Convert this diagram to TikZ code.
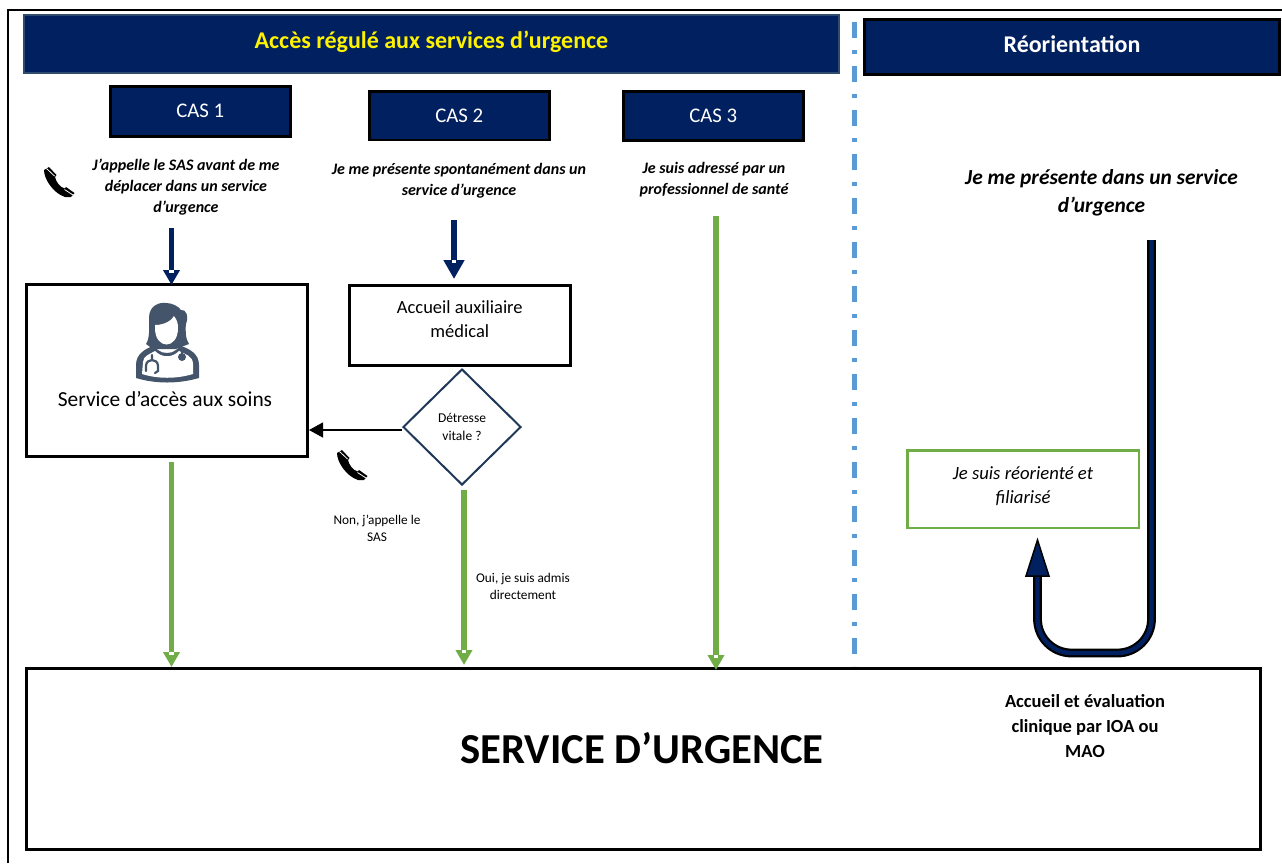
\documentclass[tikz,border=0pt]{standalone}
\usepackage{fontspec}
\setmainfont{Carlito}
\definecolor{sasnavy}{RGB}{0,32,96}
\definecolor{sasedge}{RGB}{47,75,110}
\definecolor{sasgreen}{RGB}{112,173,71}
\definecolor{sasblue}{RGB}{91,155,213}
\definecolor{sasslate}{RGB}{31,56,90}
\definecolor{sasicon}{RGB}{68,84,106}
\usetikzlibrary{arrows.meta,shapes.geometric,decorations.markings,positioning}
\newcommand{\liftup}[1]{\rule[-#1]{0pt}{#1}}
\tikzset{
  navybox/.style={fill=sasnavy,draw=black,line width=2.5pt,text=white,minimum width=180pt,font=\fontsize{20.8}{24}\selectfont,anchor=north west},
  plainbox/.style={draw=black,line width=2.6pt,anchor=north west,align=center},
  slitarrow/.style 2 args={line width=5.5pt,-{Triangle[length=#2,width=#1]},
    postaction={decorate,decoration={markings,mark=at position 1 with {\fill[white] (-#2,-2.2pt) rectangle ++(3pt,4.4pt);}}}},
  caption/.style={align=center,font=\fontsize{16}{21}\selectfont\bfseries\itshape},
  smalltext/.style={align=center,font=\fontsize{13.3}{17}\selectfont},
  handset/.pic={
    \fill[black] (-15,-12) .. controls (-15,-3) and (-6,11) .. (6,15) -- (12,15) -- (15.5,11) -- (7,5) -- (5.5,6.5)
      .. controls (1,5) and (-3,0) .. (-4,-5) -- (-2.5,-7) -- (-10,-15) -- cycle;
    \draw[white,line width=.8pt] (-12.5,-13.5) -- (-4.5,-6) (5.5,7.5) -- (14,13);
  }
}
\begin{document}
\begin{tikzpicture}[x=1pt,y=-1pt]
  \useasboundingbox (0,0) rectangle (1282,863);
  % cadre
  \coordinate (frameTL) at (8,10);
  \draw[black,line width=2pt] (8,863) -- (frameTL) -- (1282,10);

  % bandeaux
  \node[fill=sasnavy,draw=sasedge,line width=2pt,minimum width=815pt,minimum height=57.5pt,anchor=north west,text=yellow,font=\fontsize{24}{28}\selectfont\bfseries] (regule) at (23,14) {Accès régulé aux services d’urgence\liftup{7pt}};
  \node[fill=sasnavy,draw=black,line width=3pt,minimum width=415pt,minimum height=55pt,anchor=north west,text=white,font=\fontsize{24}{28}\selectfont\bfseries] (reorient) at (863,18) {Réorientation\liftup{6pt}};

  \node[navybox,minimum height=50pt] (cas1) at (109,85) {CAS 1};
  \node[navybox,minimum height=48.5pt] (cas2) at (368,90) {CAS 2};
  \node[navybox,minimum height=49pt] (cas3) at (622,90) {CAS 3};

  % textes d'entree
  \node[caption] (txt1) at (186,187) {J’appelle le SAS avant de me\\déplacer dans un service\\d’urgence};
  \node[caption] (txt2) at (459,181) {Je me présente spontanément dans un\\service d’urgence};
  \node[caption] (txt3) at (714,180) {Je suis adressé par un\\professionnel de santé};
  \node[align=center,font=\fontsize{21.4}{28}\selectfont\bfseries\itshape] (txt4) at (1101.5,193) {Je me présente dans un service\\d’urgence};
  \pic at (59,182) {handset};
  \pic at (352,465) {handset};

  % boites
  \node[plainbox,minimum width=281.4pt,minimum height=172.4pt] (sas) at (25,283) {};
  \node[font=\fontsize{21.4}{25}\selectfont] (sastxt) at (165,399) {Service d’accès aux soins};
  \node[plainbox,minimum width=221pt,minimum height=80.4pt,font=\fontsize{18.5}{24}\selectfont] (aux) at (348,284) {Accueil auxiliaire\\médical\liftup{12pt}};
  \node[draw=sasslate,line width=2pt,shape=diamond,aspect=1,minimum width=118pt,minimum height=116pt,inner sep=0pt,align=center,font=\fontsize{13.5}{18.5}\selectfont] (detresse) at (462,427) {Détresse\\vitale ?};
  \node[draw=sasgreen,line width=2.5pt,minimum width=231.5pt,minimum height=77.5pt,anchor=north west,align=center,font=\fontsize{18.7}{24}\selectfont\itshape] (filiere) at (906,449) {Je suis réorienté et\\filiarisé\liftup{7pt}};
  \node[plainbox,minimum width=1234pt,minimum height=181.4pt] (urgence) at (25,667) {};
  \node[font=\fontsize{42.7}{48}\selectfont\bfseries] (urgtxt) at (642,748) {SERVICE D’URGENCE};
  \node[align=center,font=\fontsize{18.5}{25}\selectfont\bfseries] (ioa) at (1085,726) {Accueil et évaluation\\clinique par IOA ou\\MAO};

  % icone soignante
  \fill[sasicon] (149,318) .. controls (149,305) and (160,302) .. (166,303) .. controls (172,303) and (178,306) .. (181,310) .. controls (186,309) and (189,316) .. (186,324) .. controls (185,331) and (186,340) .. (189,344)
    -- (176,349) -- (153,349) -- (146,344) .. controls (150,338) and (149,328) .. (149,318) -- cycle;
  \fill[white] (155,325) .. controls (165,325) and (172,320) .. (174,316) .. controls (177,320) and (178,323) .. (178,328) .. controls (178,350) and (155,350) .. (155,328) -- cycle;
  \fill[sasicon] (153,346) -- (158,350) .. controls (162,354) and (172,354) .. (176,350) -- (181,346)
    .. controls (190,349) and (199,354) .. (199,365) -- (199,378) .. controls (178,384) and (156,384) .. (136,378) -- (136,365) .. controls (136,354) and (145,349) .. (153,346) -- cycle;
  \fill[white] (143,362) .. controls (143,356) and (150,354) .. (155,351) .. controls (162,358) and (172,358) .. (179,351) .. controls (185,354) and (193,356) .. (193,364) -- (193,374) .. controls (176,379) and (158,379) .. (142,374) -- cycle;
  \draw[sasicon,line width=2.2pt,line cap=round] (152,355) -- (152,360) (146,371) -- (146,366) .. controls (146,358) and (158,358) .. (158,366) -- (158,371) -- (155,373);
  \draw[sasicon,line width=2pt] (182,352) -- (182,360);
  \fill[sasicon] (182,357) circle (4pt);

  % connecteurs
  \coordinate (d1) at (171.5,228);
  \coordinate (d2) at (454,220);
  \coordinate (v1) at (171.5,462);
  \coordinate (v2) at (464,490);
  \coordinate (v3) at (716,216);
  \coordinate (r0) at (1151.5,240);
  \draw[sasnavy,slitarrow={16pt}{15pt}] (d1) -- ([yshift=-2pt]d1 |- sas.north);
  \draw[sasnavy,slitarrow={20pt}{19pt}] (d2) -- ([yshift=5pt]d2 |- aux.north);
  \draw[sasgreen,slitarrow={16pt}{15pt}] (v1) -- (v1 |- urgence.north);
  \draw[sasgreen,slitarrow={16pt}{15pt}] (v2) -- ([yshift=2pt]v2 |- urgence.north);
  \draw[sasgreen,slitarrow={16pt}{15pt}] (v3) -- ([yshift=-3pt]v3 |- urgence.north);
  \draw[-{Triangle[length=14pt,width=15pt]},line width=1.3pt] ([yshift=-3pt]detresse.west) -- ([yshift=-3pt]detresse.west -| sas.east);

  % retour
  \coordinate (r1) at (1151.5,653);
  \coordinate (r2) at (1037.5,653);
  \coordinate (r3) at (1037.5,540);
  \draw[double=sasnavy,draw=black,line width=2.2pt,double distance=4.4pt,rounded corners=34pt] (r0) -- (r1) -- (r2) -- (1037.5,576);
  \fill[sasnavy,draw=black,line width=1.5pt] (r3) -- (1049,576) -- (1026,576) -- cycle;

  % separateur
  \draw[sasblue,line width=4.2pt,dash pattern=on 16pt off 12pt on 4pt off 12pt] (854.5,22) -- (854.5,666);

  % libelles
  \node[smalltext] (nonsas) at (377,528.5) {Non, j’appelle le\\SAS};
  \node[smalltext] (ouidir) at (523,586.5) {Oui, je suis admis\\directement};
\end{tikzpicture}
\end{document}
